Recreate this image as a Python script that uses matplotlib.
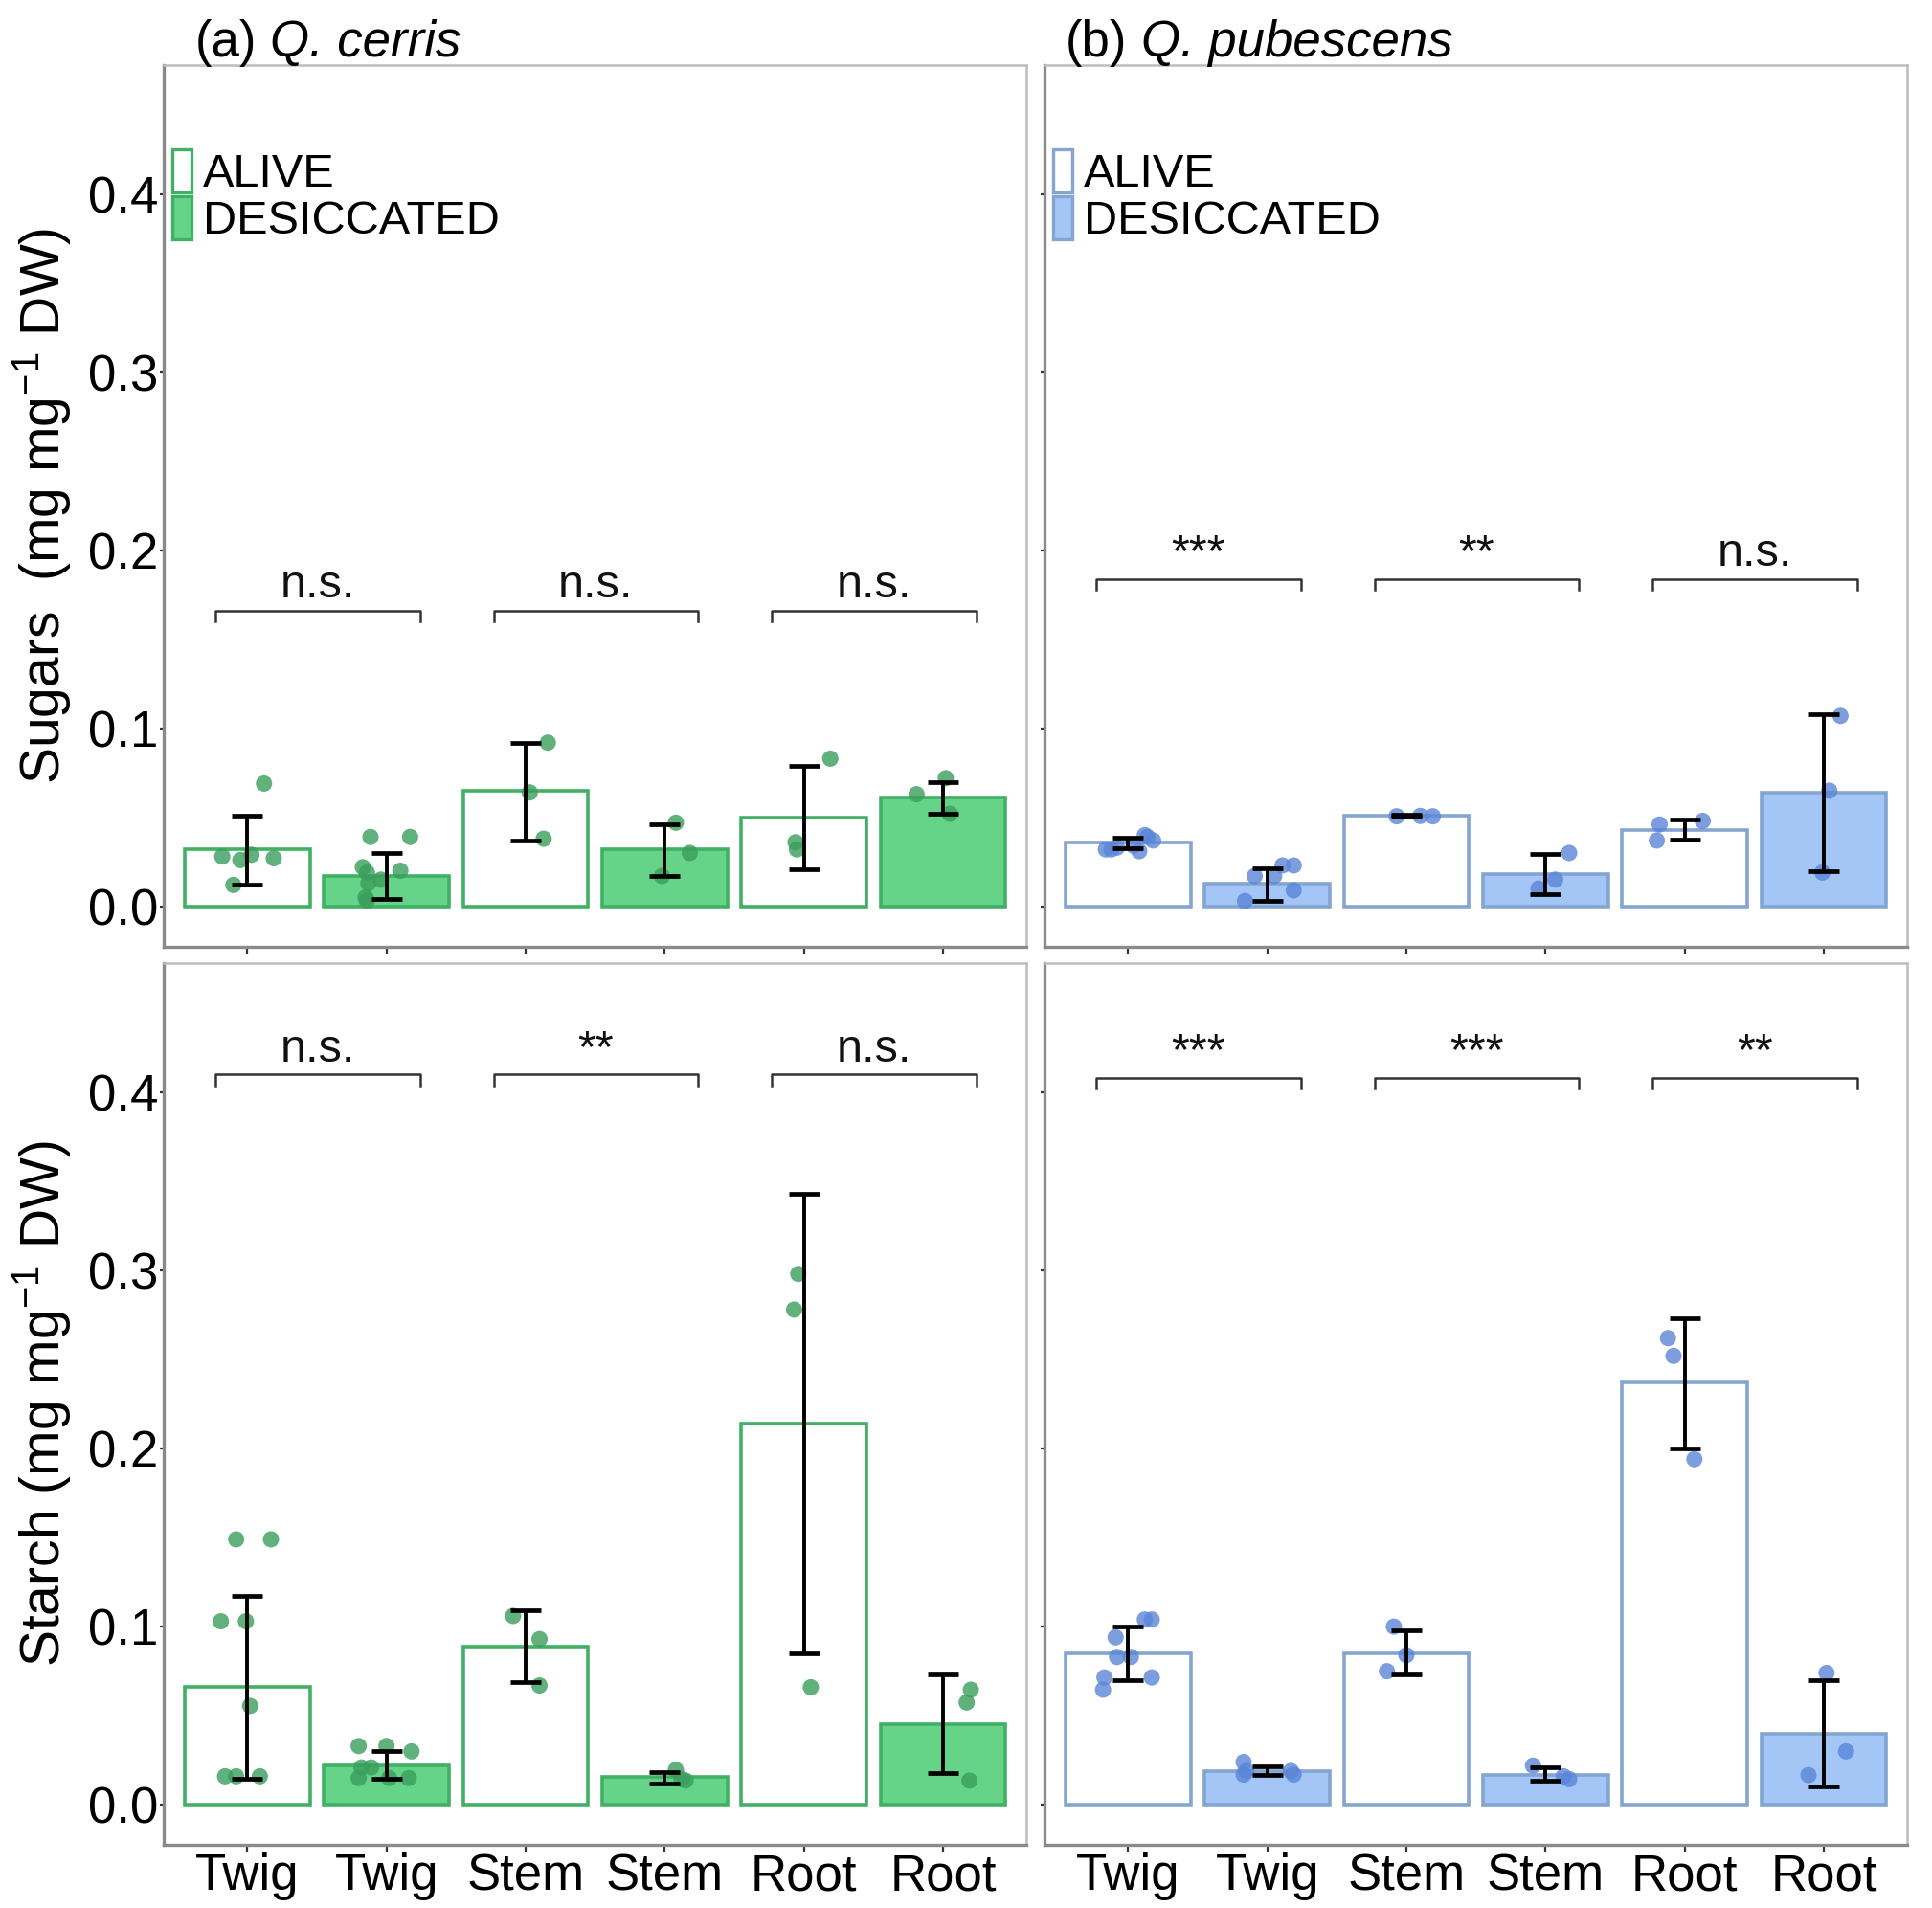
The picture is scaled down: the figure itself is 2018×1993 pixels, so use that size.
import matplotlib
matplotlib.use("Agg")
import matplotlib.pyplot as plt
from matplotlib.patches import Patch

plt.rcParams['font.family'] = ['Liberation Sans', 'DejaVu Sans']
plt.rcParams['mathtext.fontset'] = 'custom'
plt.rcParams['mathtext.rm'] = 'Liberation Sans'

# categories
organs = ['Twig', 'Twig', 'Stem', 'Stem', 'Root', 'Root']
status = ['ALIVE', 'DESICCATED', 'ALIVE', 'DESICCATED', 'ALIVE', 'DESICCATED']

# Sugars, Q. cerris
sug_cer_mean = [0.032, 0.017, 0.065, 0.032, 0.050, 0.061]
sug_cer_lo = [0.012, 0.004, 0.037, 0.017, 0.021, 0.052]
sug_cer_hi = [0.051, 0.030, 0.092, 0.046, 0.079, 0.070]
sug_cer_pts = [[0.069, 0.028, 0.026, 0.029, 0.027, 0.012],
               [0.039, 0.039, 0.022, 0.019, 0.020, 0.015, 0.013, 0.005, 0.003],
               [0.092, 0.064, 0.038],
               [0.047, 0.030, 0.017],
               [0.083, 0.036, 0.032],
               [0.072, 0.063, 0.052]]
sug_cer_jit = [[0.12, -0.18, -0.05, 0.03, 0.19, -0.10],
               [-0.115, 0.17, -0.17, -0.14, 0.10, -0.04, -0.13, -0.15, -0.14],
               [0.16, 0.03, 0.13],
               [0.08, 0.18, -0.02],
               [0.19, -0.06, -0.05],
               [0.02, -0.19, 0.05]]
sug_cer_sig = ['n.s.', 'n.s.', 'n.s.']

# Sugars, Q. pubescens
sug_pub_mean = [0.036, 0.013, 0.051, 0.018, 0.043, 0.064]
sug_pub_lo = [0.0325, 0.003, 0.0505, 0.007, 0.0375, 0.0197]
sug_pub_hi = [0.0387, 0.0215, 0.0515, 0.0295, 0.049, 0.108]
sug_pub_pts = [[0.032, 0.032, 0.033, 0.031, 0.039, 0.037, 0.040, 0.034],
               [0.023, 0.023, 0.017, 0.017, 0.009, 0.003],
               [0.0506, 0.0508, 0.0506],
               [0.030, 0.015, 0.010],
               [0.048, 0.046, 0.037],
               [0.107, 0.065, 0.019]]
sug_pub_jit = [[-0.16, -0.12, -0.08, 0.08, 0.14, 0.18, 0.12, 0.04],
               [0.11, 0.19, -0.09, 0.05, 0.19, -0.16],
               [-0.07, 0.10, 0.19],
               [0.17, 0.07, -0.05],
               [0.13, -0.18, -0.20],
               [0.12, 0.04, -0.01]]
sug_pub_sig = ['***', '**', 'n.s.']

# Starch, Q. cerris
sta_cer_mean = [0.066, 0.022, 0.089, 0.0156, 0.214, 0.045]
sta_cer_lo = [0.0144, 0.0144, 0.069, 0.012, 0.085, 0.0177]
sta_cer_hi = [0.117, 0.030, 0.109, 0.0184, 0.343, 0.0734]
sta_cer_pts = [[0.149, 0.149, 0.103, 0.103, 0.0555, 0.016, 0.016, 0.016],
               [0.033, 0.033, 0.030, 0.021, 0.021, 0.015, 0.015, 0.015],
               [0.106, 0.093, 0.067],
               [0.0196, 0.0136, 0.0145],
               [0.298, 0.278, 0.066],
               [0.0646, 0.0574, 0.0136]]
sta_cer_jit = [[-0.08, 0.17, -0.19, -0.01, 0.02, -0.16, -0.08, 0.09],
               [-0.20, 0.0, 0.18, -0.18, -0.11, -0.20, 0.02, 0.16],
               [-0.09, 0.10, 0.10],
               [0.08, 0.15, 0.12],
               [-0.04, -0.07, 0.05],
               [0.20, 0.17, 0.19]]
sta_cer_sig = ['n.s.', '**', 'n.s.']

# Starch, Q. pubescens
sta_pub_mean = [0.085, 0.019, 0.085, 0.0165, 0.237, 0.040]
sta_pub_lo = [0.070, 0.0167, 0.073, 0.0136, 0.200, 0.0105]
sta_pub_hi = [0.100, 0.0215, 0.098, 0.0208, 0.273, 0.070]
sta_pub_pts = [[0.104, 0.104, 0.094, 0.083, 0.083, 0.0715, 0.0715, 0.0646],
               [0.024, 0.019, 0.017, 0.019, 0.017],
               [0.100, 0.084, 0.075],
               [0.022, 0.016, 0.0144],
               [0.262, 0.252, 0.194],
               [0.074, 0.030, 0.0167]]
sta_pub_jit = [[0.12, 0.17, -0.09, -0.08, 0.02, -0.17, 0.17, -0.18],
               [-0.17, -0.15, -0.17, 0.17, 0.19],
               [-0.09, 0.0, -0.14],
               [-0.09, 0.13, 0.17],
               [-0.12, -0.08, 0.07],
               [0.02, 0.16, -0.11]]
sta_pub_sig = ['***', '***', '**']

green = {'fill': '#66d488', 'edge': '#42b064', 'pt': '#3a9e5c'}
blue = {'fill': '#a3c6f6', 'edge': '#84a5d0', 'pt': '#5b86d8'}

fig = plt.figure(figsize=(20.18, 19.93), dpi=100)
ax_a1 = fig.add_axes([0.0848, 0.504, 0.4465, 0.4617])
ax_b1 = fig.add_axes([0.5407, 0.504, 0.4465, 0.4617])
ax_a2 = fig.add_axes([0.0848, 0.0331, 0.4465, 0.4621])
ax_b2 = fig.add_axes([0.5407, 0.0331, 0.4465, 0.4621])


def draw_panel(ax, mean, lo, hi, pts, jit, sig, sig_y, col):
    x = list(range(1, 7))
    for i in range(6):
        face = 'white' if status[i] == 'ALIVE' else col['fill']
        ax.bar(x[i], mean[i], width=0.9, color=face, edgecolor=col['edge'],
               linewidth=2.6, zorder=2)
    for i in range(6):
        ax.scatter([x[i] + j for j in jit[i]], pts[i], s=150, color=col['pt'],
                   alpha=0.8, edgecolors='none', zorder=3)
    yerr = [[m - l for m, l in zip(mean, lo)], [h - m for m, h in zip(mean, hi)]]
    ax.errorbar(x, mean, yerr=yerr, fmt='none', ecolor='black', elinewidth=2.8,
                capsize=11.5, capthick=3.4, zorder=4)
    for g in range(3):
        x0 = 2 * g + 1 - 0.23
        x1 = 2 * g + 2 + 0.24
        ax.plot([x0, x0, x1, x1], [sig_y - 0.006, sig_y, sig_y, sig_y - 0.006],
                color='#333333', linewidth=1.8, zorder=4)
        ax.text((x0 + x1) / 2, sig_y + 0.002, sig[g], ha='center', va='bottom',
                fontsize=35, color='#111111')
    ax.set_xlim(0.4, 6.6)
    ax.set_ylim(-0.0225, 0.4725)
    ax.set_xticks(x)
    ax.set_yticks([0.0, 0.1, 0.2, 0.3, 0.4])
    for s in ['top', 'right']:
        ax.spines[s].set_color('#bdbdbd')
        ax.spines[s].set_linewidth(1.8)
    for s in ['left', 'bottom']:
        ax.spines[s].set_color('#8a8a8a')
        ax.spines[s].set_linewidth(2.4)
    ax.tick_params(axis='both', width=1.6, color='#333333', labelsize=38)
    ax.tick_params(axis='x', length=5, pad=1)
    ax.tick_params(axis='y', length=3, pad=1)


draw_panel(ax_a1, sug_cer_mean, sug_cer_lo, sug_cer_hi, sug_cer_pts, sug_cer_jit,
           sug_cer_sig, 0.166, green)
draw_panel(ax_b1, sug_pub_mean, sug_pub_lo, sug_pub_hi, sug_pub_pts, sug_pub_jit,
           sug_pub_sig, 0.184, blue)
draw_panel(ax_a2, sta_cer_mean, sta_cer_lo, sta_cer_hi, sta_cer_pts, sta_cer_jit,
           sta_cer_sig, 0.410, green)
draw_panel(ax_b2, sta_pub_mean, sta_pub_lo, sta_pub_hi, sta_pub_pts, sta_pub_jit,
           sta_pub_sig, 0.408, blue)

for ax in [ax_a1, ax_b1]:
    ax.set_xticklabels([])
for ax in [ax_a2, ax_b2]:
    ax.set_xticklabels(organs)
for ax in [ax_a1, ax_a2]:
    ax.set_yticklabels(['0.0', '0.1', '0.2', '0.3', '0.4'])
for ax in [ax_b1, ax_b2]:
    ax.set_yticklabels([])

ax_a1.set_ylabel('Sugars  (mg mg$^{-1}$ DW)', fontsize=41)
ax_a2.set_ylabel('Starch (mg mg$^{-1}$ DW)', fontsize=41)
ax_a1.yaxis.set_label_coords(-0.105, 0.5)
ax_a2.yaxis.set_label_coords(-0.105, 0.5)


def panel_title(ax, x, tag, species):
    t = ax.text(x, 1.01, tag, transform=ax.transAxes, fontsize=38,
                ha='left', va='baseline')
    fig.canvas.draw()
    bb = t.get_window_extent()
    x_end = ax.transAxes.inverted().transform((bb.x1, bb.y0))[0]
    ax.text(x_end + 0.016, 1.01, species, transform=ax.transAxes, fontsize=38,
            style='italic', ha='left', va='baseline')


panel_title(ax_a1, 0.036, '(a)', 'Q. cerris')
panel_title(ax_b1, 0.024, '(b)', 'Q. pubescens')

for ax, col in [(ax_a1, green), (ax_b1, blue)]:
    handles = [Patch(facecolor='white', edgecolor=col['edge'], linewidth=2.4),
               Patch(facecolor=col['fill'], edgecolor=col['edge'], linewidth=2.4)]
    ax.legend(handles, ['ALIVE', 'DESICCATED'], loc='upper left',
              bbox_to_anchor=(0.01, 0.905), frameon=False, fontsize=35,
              handlelength=0.4, handleheight=1.05, handletextpad=0.25,
              labelspacing=0.0, borderpad=0, borderaxespad=0)

fig.savefig('out.png', dpi=100)
